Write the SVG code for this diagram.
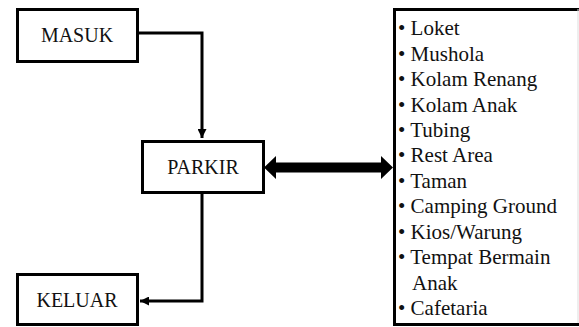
<svg xmlns="http://www.w3.org/2000/svg" width="579" height="327" viewBox="0 0 579 327">
<style>
.box{fill:#fff;stroke:#000;stroke-width:3}
.con{fill:none;stroke:#000;stroke-width:3}
</style>
<defs>
<marker id="ah" viewBox="0 0 10 10" refX="10" refY="5" markerWidth="3" markerHeight="3" orient="auto" markerUnits="strokeWidth">
<path d="M0,0 L10,5 L0,10 z" fill="#000"/>
</marker>
</defs>
<rect width="579" height="327" fill="#fff"/>
<g id="connectors">
<path class="con" d="M138,33 H202 V138" marker-end="url(#ah)"/>
<path class="con" d="M202,193 V301 H140" marker-end="url(#ah)"/>
<path d="M264,167.5 L276,156 L276,162.5 L381,162.5 L381,156 L393,167.5 L381,179 L381,172.5 L276,172.5 L276,179 z" fill="#000"/>
</g>
<g font-family="Liberation Serif, Times New Roman, serif" fill="#111">
<g id="masuk">
<rect class="box" x="17.5" y="9.5" width="120" height="52"/>
<text x="77" y="42" font-size="20" text-anchor="middle">MASUK</text>
</g>
<g id="parkir">
<rect class="box" x="142.5" y="141.5" width="121" height="51"/>
<text x="203" y="174" font-size="20" text-anchor="middle">PARKIR</text>
</g>
<g id="keluar">
<rect class="box" x="17.5" y="274.5" width="120" height="50"/>
<text x="77" y="307" font-size="20" text-anchor="middle">KELUAR</text>
</g>
<g id="fasilitas" font-size="21">
<rect class="box" x="394.5" y="9.5" width="190" height="315"/>
<line x1="578" y1="9" x2="578" y2="323" stroke="#ddd" stroke-width="1"/>
<text x="398" y="35">• Loket</text>
<text x="398" y="60.5">• Mushola</text>
<text x="398" y="86">• Kolam Renang</text>
<text x="398" y="111.5">• Kolam Anak</text>
<text x="398" y="137">• Tubing</text>
<text x="398" y="162">• Rest Area</text>
<text x="398" y="187.5">• Taman</text>
<text x="398" y="213">• Camping Ground</text>
<text x="398" y="238.5">• Kios/Warung</text>
<text x="398" y="264">• Tempat Bermain</text>
<text x="412" y="289.5">Anak</text>
<text x="398" y="315">• Cafetaria</text>
</g>
</g>
</svg>
